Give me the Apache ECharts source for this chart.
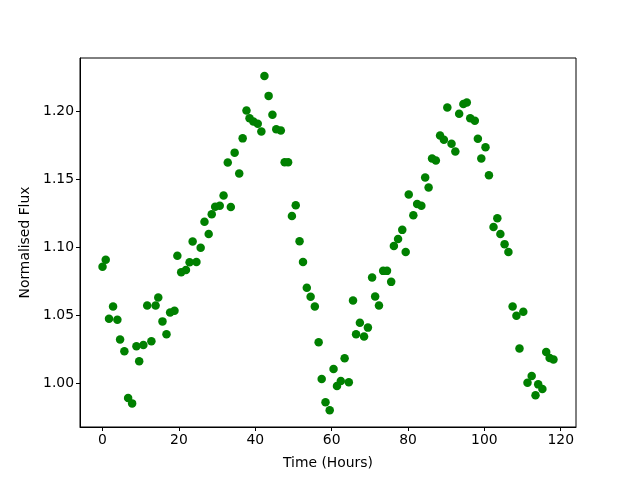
<!DOCTYPE html>
<html>
<head>
<meta charset="utf-8">
<script src="https://cdn.jsdelivr.net/npm/echarts@6/dist/echarts.min.js"></script>
<style>
  html, body { margin: 0; padding: 0; background: #fff; }
  #chart { width: 640px; height: 480px; }
</style>
</head>
<body>
<div id="chart"></div>
<script>
// time of each sample (hours)
const timeHours = [
  0, 0.84, 1.7, 2.76, 3.89, 4.6, 5.72, 6.7, 7.75, 8.88,
  9.6, 10.7, 11.7, 12.8, 13.9, 14.6, 15.7, 16.75, 17.7, 18.85,
  19.6, 20.6, 21.85, 22.8, 23.6, 24.6, 25.7, 26.7, 27.8, 28.6,
  29.5, 30.7, 31.7, 32.8, 33.6, 34.6, 35.8, 36.7, 37.7, 38.5,
  39.5, 40.65, 41.6, 42.4, 43.5, 44.5, 45.5, 46.7, 47.7, 48.6,
  49.6, 50.6, 51.6, 52.5, 53.5, 54.5, 55.6, 56.6, 57.4, 58.4,
  59.5, 60.5, 61.4, 62.4, 63.4, 64.5, 65.6, 66.4, 67.4, 68.5,
  69.5, 70.6, 71.4, 72.4, 73.5, 74.5, 75.6, 76.3, 77.4, 78.5,
  79.4, 80.2, 81.4, 82.4, 83.5, 84.5, 85.4, 86.3, 87.3, 88.4,
  89.4, 90.3, 91.4, 92.4, 93.4, 94.5, 95.4, 96.3, 97.5, 98.3,
  99.2, 100.3, 101.2, 102.4, 103.4, 104.2, 105.3, 106.3, 107.4, 108.4,
  109.2, 110.2, 111.3, 112.4, 113.4, 114.1, 115.2, 116.2, 117.1, 118.1
];
// normalised flux
const flux = [
  1.0857, 1.0908, 1.0474, 1.0564, 1.0466, 1.032, 1.0234, 0.989, 0.985, 1.027,
  1.016, 1.028, 1.0571, 1.0308, 1.0571, 1.063, 1.0454, 1.0359, 1.052, 1.0532,
  1.0938, 1.0816, 1.0833, 1.0889, 1.1043, 1.0891, 1.0996, 1.1187, 1.1097, 1.1243,
  1.1299, 1.1306, 1.1382, 1.1624, 1.1297, 1.1697, 1.1543, 1.1802, 1.2007, 1.1951,
  1.1927, 1.191, 1.1853, 1.2261, 1.2115, 1.1976, 1.187, 1.186, 1.1626, 1.1626,
  1.1231, 1.1309, 1.1045, 1.0891, 1.0701, 1.0635, 1.0564, 1.03, 1.0029, 0.9859,
  0.98, 1.0103, 0.9978, 1.0015, 1.0183, 1.0005, 1.0608, 1.0359, 1.0444, 1.0342,
  1.0408, 1.0777, 1.0637, 1.0571, 1.0826, 1.0826, 1.0745, 1.1009, 1.106, 1.1128,
  1.0965, 1.1389, 1.1236, 1.1319, 1.1306, 1.1514, 1.1441, 1.1653, 1.1639, 1.1824,
  1.1792, 1.2029, 1.1763, 1.1705, 1.1983, 1.2056, 1.2066, 1.1951, 1.1932, 1.18,
  1.1653, 1.1736, 1.1531, 1.115, 1.1214, 1.1097, 1.1023, 1.0965, 1.0564, 1.0496,
  1.0254, 1.0525, 1.0002, 1.0051, 0.991, 0.999, 0.9956, 1.0229, 1.0185, 1.0173
];
const xTicks = [0, 20, 40, 60, 80, 100, 120];
const yTicks = [1.0, 1.05, 1.1, 1.15, 1.2];

const points = timeHours.map((t, i) => [t, flux[i]]);

const chart = echarts.init(document.getElementById("chart"));
const font = "DejaVu Sans";
chart.setOption({
  animation: false,
  grid: {
    left: 80, right: 64, top: 58, bottom: 53,
    show: true, borderColor: "#000", borderWidth: 1
  },
  xAxis: {
    type: "value",
    min: -5.9, max: 124,
    name: "Time (Hours)",
    nameLocation: "middle",
    nameGap: 29,
    nameTextStyle: { color: "#000", fontFamily: font, fontSize: 13.9 },
    axisLine: { show: true, onZero: false, lineStyle: { color: "#000", width: 1 } },
    axisTick: { show: true, inside: false, length: 4, customValues: xTicks, lineStyle: { color: "#000" } },
    axisLabel: {
      customValues: xTicks, margin: 6,
      color: "#000", fontFamily: font, fontSize: 13.9
    },
    splitLine: { show: false }
  },
  yAxis: {
    type: "value",
    min: 0.9676, max: 1.2394,
    name: "Normalised Flux",
    nameLocation: "middle",
    nameGap: 47,
    nameTextStyle: { color: "#000", fontFamily: font, fontSize: 13.9 },
    axisLine: { show: true, onZero: false, lineStyle: { color: "#000", width: 1 } },
    axisTick: { show: true, inside: false, length: 4, customValues: yTicks, lineStyle: { color: "#000" } },
    axisLabel: {
      customValues: yTicks, margin: 6,
      formatter: v => v.toFixed(2),
      color: "#000", fontFamily: font, fontSize: 13.9
    },
    splitLine: { show: false }
  },
  series: [{
    type: "scatter",
    data: points,
    symbol: "circle",
    symbolSize: 8.5,
    itemStyle: { color: "#008000", opacity: 1 }
  }]
});
</script>
</body>
</html>
